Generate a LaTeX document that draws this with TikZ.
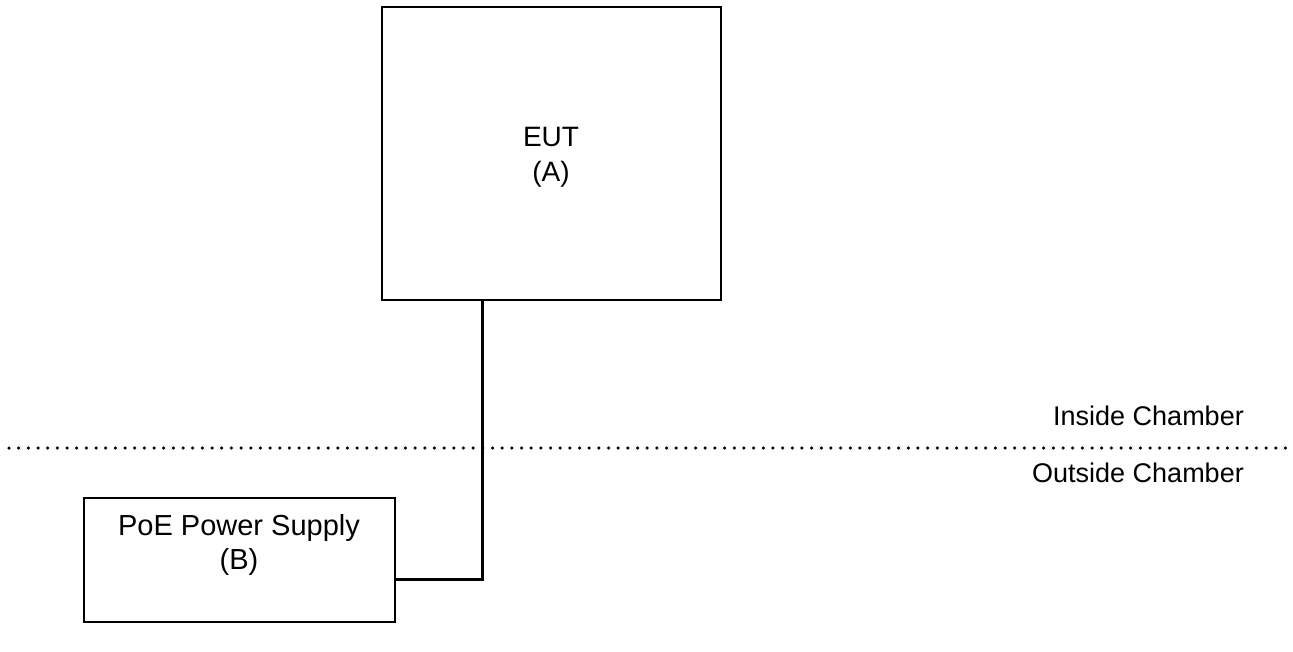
\documentclass[tikz,border=0pt]{standalone}
\usepackage{fontspec}
\setmainfont{Liberation Sans}
\begin{document}
\begin{tikzpicture}[x=1pt,y=-1pt,
  box/.style={draw=black, line width=2pt, fill=none, inner sep=0pt, outer sep=0pt},
  txt/.style={font=\fontsize{27}{32}\selectfont, inner sep=0pt, anchor=base},
  conn/.style={line width=3pt, line cap=rect},
  sep/.style={line width=3.5pt, line cap=round, dash pattern=on 0pt off 9.67pt}]
\useasboundingbox (0,0) rectangle (1293,652);
\fill[white] (0,0) rectangle (1293,652);
% EUT box
\node[box, minimum width=339pt, minimum height=293pt] (eut) at (551,154) {};
\node[txt, font=\fontsize{28}{33}\selectfont] (eutA) at (551,146.7) {EUT};
\node[txt, font=\fontsize{28}{33}\selectfont] (eutB) at (551,181.7) {(A)};
% PoE box
\node[box, minimum width=311pt, minimum height=124.5pt] (poe) at (239,559.75) {};
\node[txt, font=\fontsize{29}{34}\selectfont] (poeA) at (239,535) {PoE Power Supply};
\node[txt, font=\fontsize{29}{34}\selectfont] (poeB) at (239,569.5) {(B)};
% chamber boundary
\coordinate (dl) at (9,448);
\coordinate (dr) at (1288,448);
\draw[sep] (dl) -- (dr);
\node[txt] [anchor=base east] (inside) at (1244,425) {Inside Chamber};
\node[txt] [anchor=base east] (outside) at (1244,482) {Outside Chamber};
% connector
\coordinate (j) at (482.5,579);
\draw[conn, line cap=butt] (eut.south -| j) -- (j) -- (j -| poe.east);
\end{tikzpicture}
\end{document}
